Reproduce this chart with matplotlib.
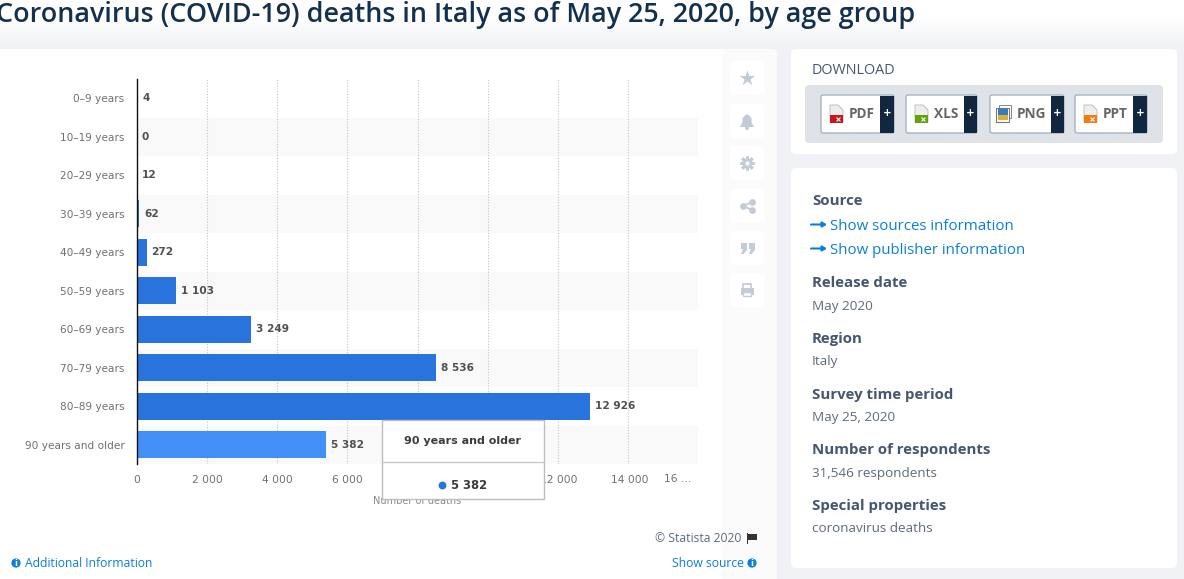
import matplotlib
matplotlib.use('Agg')
import matplotlib.pyplot as plt
import numpy as np
from matplotlib.patches import Rectangle, FancyBboxPatch, Circle, Polygon
from matplotlib.transforms import ScaledTranslation

# Dados do gráfico
age_groups = ['0-9 years', '10-19 years', '20-29 years', '30-39 years', '40-49 years',
              '50-59 years', '60-69 years', '70-79 years', '80-89 years', '90 years and older']
deaths = [4, 0, 12, 62, 272, 1103, 3249, 8536, 12926, 5382]
x_ticks = [0, 2000, 4000, 6000, 8000, 10000, 12000, 14000]
x_last_tick = 16000

W, H = 1184, 579
BLUE = '#2874dc'
HOVER = '#418ff7'
LINK = '#0b7fd8'
HEAD = '#46566f'
GREY = '#707070'
ICON = '#c3ccd6'
NAVY = '#11263f'


def fmt(v):
    return f'{v:,}'.replace(',', ' ')


fig = plt.figure(figsize=(W / 100, H / 100), dpi=100, facecolor='#f1f2f5')


def pixel_axes(z):
    a = fig.add_axes([0, 0, 1, 1], zorder=z)
    a.axis('off')
    return a


def set_pixels(a):
    a.set_xlim(0, W)
    a.set_ylim(H, 0)


def box(a, x0, y0, x1, y1, r=4, fc='white', ec='none', lw=1, z=1):
    a.add_patch(FancyBboxPatch((x0 + r, y0 + r), x1 - x0 - 2 * r, y1 - y0 - 2 * r,
                               boxstyle=f'round,pad={r},rounding_size={r}',
                               fc=fc, ec=ec, lw=lw, zorder=z))


page = pixel_axes(0)
top = pixel_axes(2)

# Fundo da página: branco em cima, passando para cinza claro
fade = np.clip((np.arange(60) - 14) / 34, 0, 1)[:, None]
page.imshow(fade, extent=(0, W, 60, 0), cmap=matplotlib.colors.LinearSegmentedColormap.from_list('f', ['white', '#f1f2f5']),
            aspect='auto', zorder=0)
set_pixels(page)
set_pixels(top)

box(page, -10, 49, 777, 600, r=5, fc='#fbfbfc')
page.add_patch(Rectangle((-10, 49), 732, 551, fc='white', ec='none', zorder=1))
box(page, 791, 49, 1177, 154, r=5)
box(page, 791, 168, 1177, 568, r=5)

page.text(-4, 15, 'Coronavirus (COVID-19) deaths in Italy as of May 25, 2020, by age group',
          family='Open Sans', weight='semibold', fontsize=19.4, color='#14304f',
          va='center', ha='left')

# Gráfico principal
ax = fig.add_axes([137 / W, 1 - 464 / H, (698 - 137) / W, (464 - 79) / H], zorder=1)
ax.patch.set_alpha(0)
positions = range(len(age_groups))
colors = [BLUE] * (len(deaths) - 1) + [HOVER]
bars = ax.barh(positions, deaths, height=0.70, color=colors, zorder=3)
for i in positions:
    if i % 2 == 1:
        ax.axhspan(i - 0.5, i + 0.5, color='#f9f9f9', lw=0, zorder=0)
ax.set_xlim(0, x_last_tick)
ax.set_ylim(len(age_groups) - 0.5, -0.5)
ax.set_yticks(list(positions), [g.replace('-', '\u2013') for g in age_groups],
              fontsize=7.6, color=GREY)
ax.set_xticks(x_ticks + [x_last_tick], [fmt(t) for t in x_ticks] + [''], fontsize=7.7, color=GREY)
ax.tick_params(axis='y', length=0, pad=9)
ax.tick_params(axis='x', length=0, pad=8)
shift = ScaledTranslation(1.5 / 100, 0, fig.dpi_scale_trans)
for lab in ax.get_xticklabels()[6:]:
    lab.set_transform(lab.get_transform() + shift)
ax.xaxis.grid(True, color='#c4c4c4', ls=(0, (1, 1.5)), lw=0.8, zorder=1)
ax.set_axisbelow(True)
for s in ['top', 'right', 'bottom']:
    ax.spines[s].set_visible(False)
ax.spines['left'].set_color('#111111')
ax.spines['left'].set_linewidth(1)
ax.spines['left'].set_zorder(5)
ax.set_xlabel('Number of deaths', fontsize=7, color='#888888', labelpad=7.5)
ax.annotate('16 …', xy=(x_last_tick, 0), xycoords=ax.get_xaxis_transform(),
            xytext=(-4.5, -11), textcoords='offset points', ha='right', va='center',
            fontsize=7.7, color=GREY)
ax.bar_label(bars, labels=[fmt(d) for d in deaths], padding=3.5, fontsize=7.6,
             fontweight='bold', color='#505050')

# Tooltip
top.add_patch(Rectangle((381.5, 419.5), 162, 79, fc='white', ec='#bdbdbd', lw=1, zorder=3))
top.plot([382, 543], [462, 462], color='#c8c8c8', lw=1, zorder=4)
top.text(462, 441, age_groups[-1], ha='center', va='center', fontsize=8, fontweight='bold', color='#3c3c3c', zorder=4)
top.scatter([442], [485], s=32, color=BLUE, lw=0, zorder=4)
top.text(451, 485.5, fmt(deaths[-1]), ha='left', va='center', fontsize=8.4, fontweight='bold', color='#3c3c3c', zorder=4)

# Botões laterais
icon_y = [78, 121, 163, 206, 248, 290]
for y in icon_y:
    box(page, 730, y - 17, 764, y + 17, r=4, z=2)
page.scatter([747], [78], marker='*', s=140, color=ICON, lw=0, zorder=3)
page.add_patch(Polygon([(740, 127), (754, 127), (751.5, 122), (751.5, 118), (748, 114.5), (746, 114.5), (742.5, 118), (742.5, 122)],
                       fc=ICON, ec='none', zorder=3))
page.add_patch(Circle((747, 128), 2, fc=ICON, ec='none', zorder=3))
page.add_patch(Circle((747, 163), 4.5, fc=ICON, ec='none', zorder=3))
page.scatter([747, 747], [163, 163], marker='+', s=90, color=ICON, lw=2.2, zorder=3)
page.scatter([747, 747], [163, 163], marker='x', s=55, color=ICON, lw=2.2, zorder=3)
page.scatter([747], [163], s=9, color='white', lw=0, zorder=4)
page.plot([752, 743, 752], [202, 206, 210], color=ICON, lw=1.3, zorder=3)
page.scatter([752, 743, 752], [202, 206, 210], s=24, color=ICON, lw=0, zorder=3)
for qx in [741, 749]:
    page.add_patch(Polygon([(qx, 243), (qx + 6, 243), (qx + 6, 250), (qx + 2.5, 254), (qx, 254), (qx + 2, 249), (qx, 249)],
                           fc=ICON, ec='none', zorder=3))
page.add_patch(Rectangle((743, 283.5), 8, 5, fc='white', ec=ICON, lw=1.2, zorder=3))
page.add_patch(Rectangle((740.5, 288), 13, 7, fc=ICON, ec='none', zorder=3))
page.add_patch(Rectangle((743, 292), 8, 3.5, fc='white', ec=ICON, lw=1, zorder=4))

# Rodapé do gráfico
foot = dict(family='Open Sans', va='center', fontsize=8.7)
page.text(741, 538.5, '© Statista 2020', ha='right', color='#5c6b80', **foot)
page.add_patch(Rectangle((747, 533), 1, 11, fc='#333333', ec='none', zorder=3))
page.add_patch(Rectangle((748, 534), 9, 6, fc='#333333', ec='none', zorder=3))
page.text(25, 563.5, 'Additional Information', ha='left', color=LINK, **foot)
page.text(744, 563.5, 'Show source', ha='right', color=LINK, **foot)
for cx in [16, 752]:
    page.add_patch(Circle((cx, 563), 4.6, fc=LINK, ec='none', zorder=3))
    page.text(cx, 563, 'i', ha='center', va='center', color='white', fontsize=6, fontweight='bold', zorder=4)

# Painel de download
page.text(812, 71, 'DOWNLOAD', family='Open Sans', fontsize=10.4, color=HEAD, va='center', weight='medium')
box(page, 805, 85, 1163, 143, r=4, fc='#dfe3e8', z=2)
buttons = [('PDF', 821, 880, 894, 849, '#c8161d'), ('XLS', 906, 964, 977, 934, '#5fa40c'),
           ('PNG', 990, 1051, 1064, 1017, '#2f7fc8'), ('PPT', 1075, 1133, 1147, 1103, '#ef7d12')]
for name, x0, xd, x1, xt, col in buttons:
    box(page, x0, 95, x1, 133, r=2, ec='#a7b3c4', z=3)
    page.add_patch(Rectangle((xd, 95.5), x1 - xd, 37, fc=NAVY, ec='none', zorder=4))
    page.text((xd + x1) / 2, 113.5, '+', color='white', ha='center', va='center', fontsize=7.5, fontweight='bold', zorder=5)
    page.text(xt, 114.5, name, family='Open Sans', weight='bold', color='#666666', fontsize=9.8,
              ha='left', va='center', zorder=5)
    ix = x0 + 9
    if name == 'PNG':
        ix = x0 + 6
        page.add_patch(Rectangle((ix + 3, 105), 12, 13, fc='white', ec='#888888', lw=0.7, zorder=5))
        page.add_patch(Rectangle((ix, 107.5), 13, 14, fc='white', ec='#777777', lw=0.8, zorder=5))
        page.add_patch(Rectangle((ix + 1.5, 109), 10, 6, fc=col, ec='none', zorder=6))
        page.add_patch(Rectangle((ix + 1.5, 115), 10, 5, fc='#e0b030', ec='none', zorder=6))
    else:
        page.add_patch(Polygon([(ix, 105), (ix + 8, 105), (ix + 13, 110), (ix + 13, 122), (ix, 122)],
                               fc='#eeeeee', ec='#aaaaaa', lw=0.5, zorder=5))
        page.add_patch(Rectangle((ix, 115), 13, 7.5, fc=col, ec='none', zorder=6))
        page.scatter([ix + 8], [119], marker='x', s=8, lw=0.8, color='white', zorder=7)

# Painel de informações
heads = [('Source', 201), ('Release date', 283), ('Region', 339), ('Survey time period', 395),
         ('Number of respondents', 450), ('Special properties', 506)]
values = [('May 2020', 306.5), ('Italy', 361.5), ('May 25, 2020', 417.5), ('31,546 respondents', 473.5),
          ('coronavirus deaths', 528.5)]
links = [('Show sources information', 226), ('Show publisher information', 250)]
for txt, y in heads:
    page.text(812, y, txt, family='Open Sans', weight='bold', fontsize=10.8, color=HEAD, va='center')
for txt, y in values:
    page.text(812, y, txt, family='Open Sans', fontsize=9.7, color='#5f6b7a', va='center')
for txt, y in links:
    page.text(830.5, y, txt, family='Open Sans', fontsize=10.85, color=LINK, va='center')
    page.annotate('', xy=(827, y - 1.5), xytext=(811, y - 1.5),
                  arrowprops=dict(arrowstyle='-|>,head_width=0.15,head_length=0.25', color=LINK, lw=1.5,
                                  shrinkA=0, shrinkB=0))

fig.savefig('out.png', dpi=100, facecolor=fig.get_facecolor())
